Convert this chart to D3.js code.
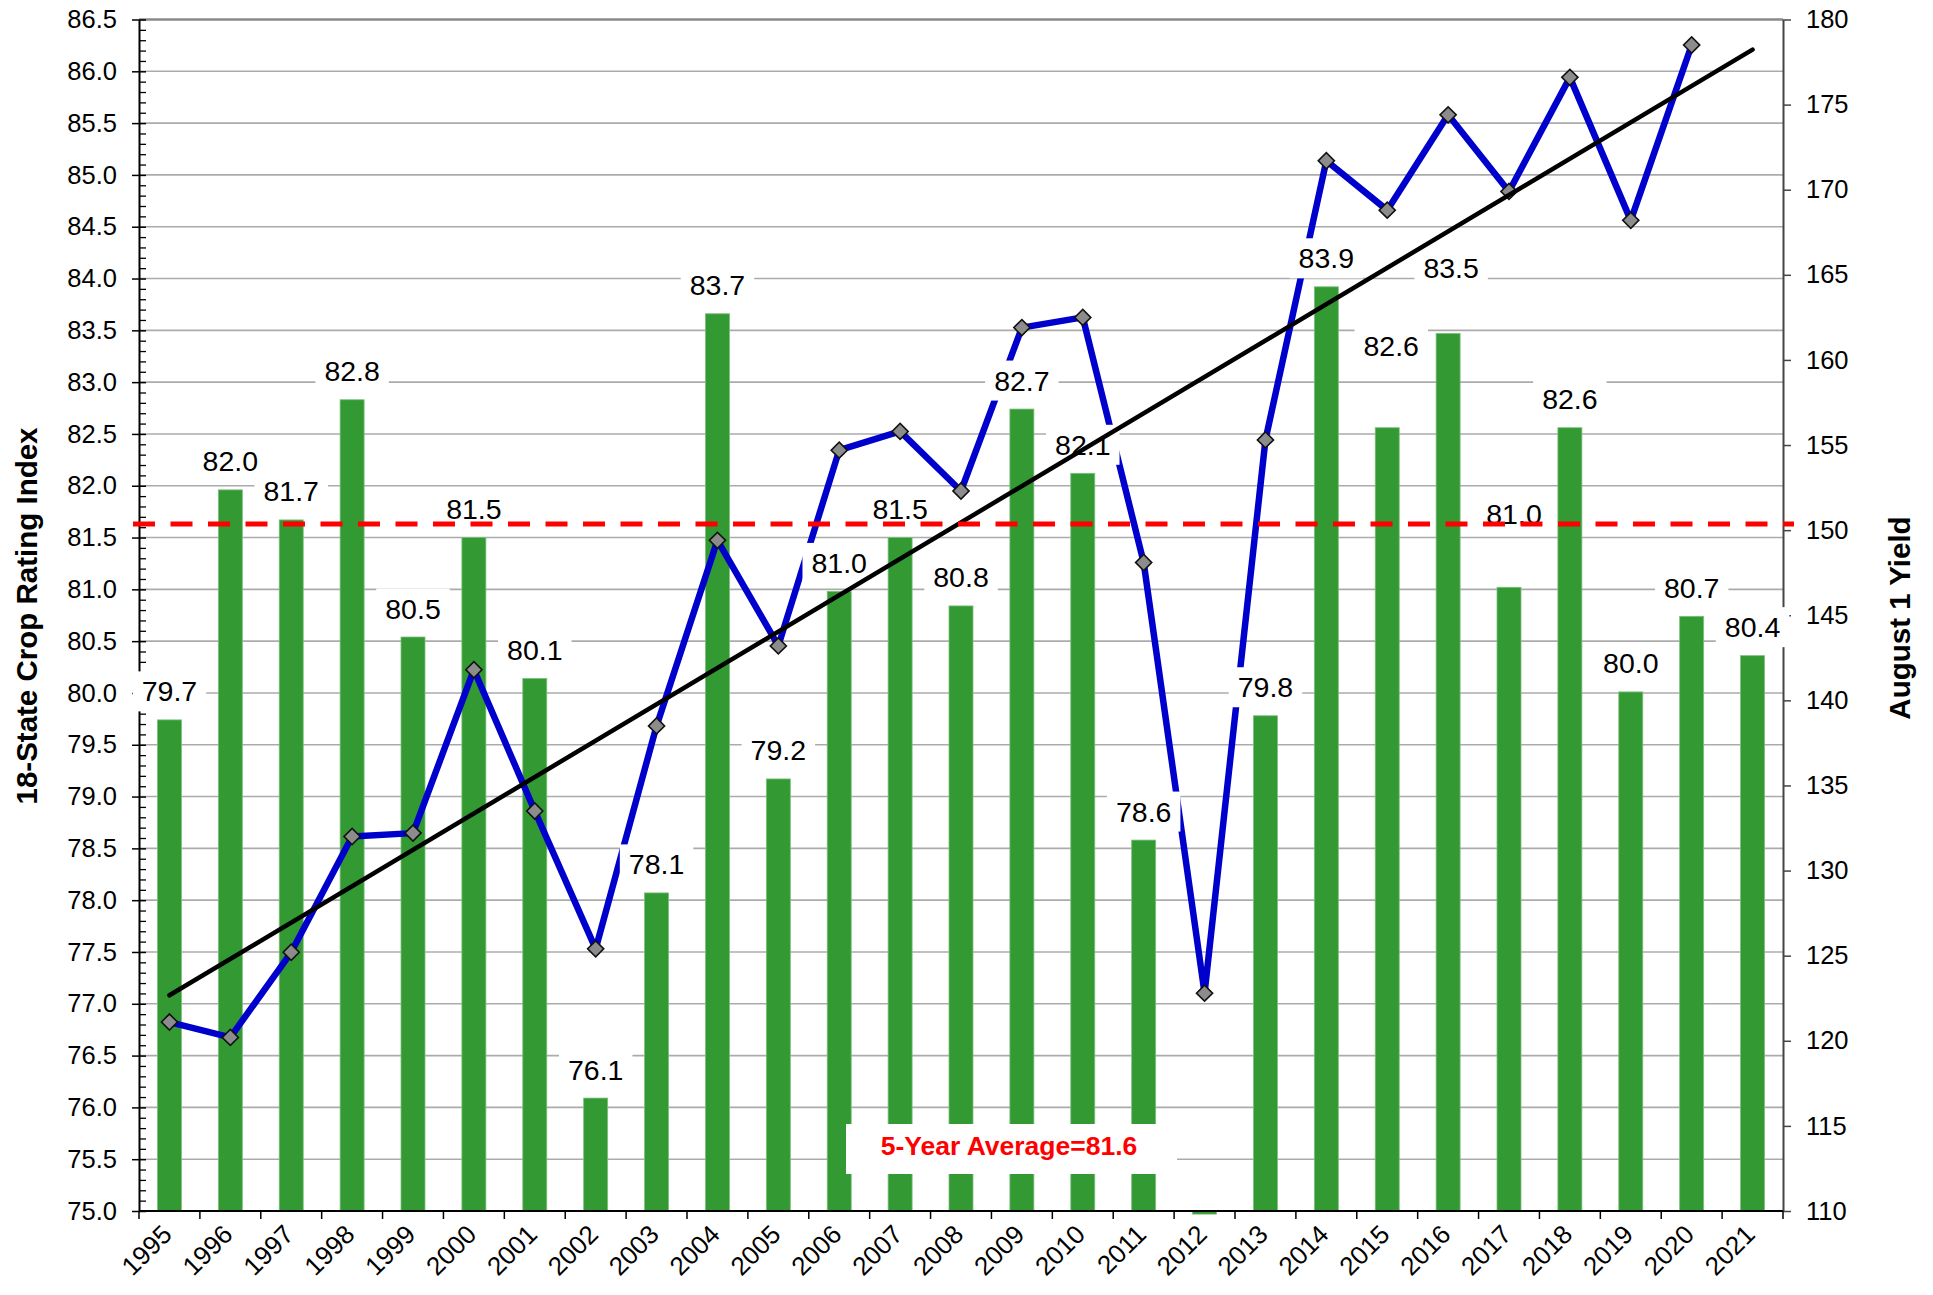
<!DOCTYPE html>
<html>
<head>
<meta charset="utf-8">
<script src="https://cdn.jsdelivr.net/npm/d3@7/dist/d3.min.js"></script>
<style>
    body { margin: 0; background: #fff; }
    svg text { font-family: Arial, "Liberation Sans", sans-serif; }
</style>
</head>
<body>
<div id="chart"></div>
<script>
    // chart data
    var years = ['1995', '1996', '1997', '1998', '1999', '2000', '2001', '2002', '2003', '2004',
        '2005', '2006', '2007', '2008', '2009', '2010', '2011', '2012', '2013', '2014',
        '2015', '2016', '2017', '2018', '2019', '2020', '2021'];
    // 18-state crop rating index (bars, left axis)
    var ratings = [79.74, 81.96, 81.67, 82.83, 80.54, 81.50, 80.14, 76.09, 78.07, 83.66,
        79.17, 80.98, 81.50, 80.84, 82.74, 82.12, 78.58, 74.97, 79.78, 83.92,
        82.56, 83.47, 81.02, 82.56, 80.01, 80.74, 80.36];
    // August 1 yield (line, right axis)
    var yields = [121.1, 120.2, 125.2, 132.0, 132.2, 141.8, 133.5, 125.4, 138.5, 149.4,
        143.2, 154.7, 155.8, 152.3, 161.9, 162.5, 148.1, 122.8, 155.3, 171.7,
        168.8, 174.4, 169.9, 176.6, 168.2, 178.5, null];
    var leftTicks = [75, 75.5, 76, 76.5, 77, 77.5, 78, 78.5, 79, 79.5, 80, 80.5, 81, 81.5,
        82, 82.5, 83, 83.5, 84, 84.5, 85, 85.5, 86, 86.5];
    var rightTicks = [110, 115, 120, 125, 130, 135, 140, 145, 150, 155, 160, 165, 170, 175, 180];
    var avgValue = 81.63;
    var avgText = '5-Year Average=81.6';
    var leftTitle = '18-State Crop Rating Index';
    var rightTitle = 'August 1 Yield';

    var width = 1933, height = 1295;
    var margin = {top: 19.5, right: 150, bottom: 84, left: 139};
    var plotRight = width - margin.right;
    var plotBottom = height - margin.bottom;

    var svg = d3.select('#chart').append('svg')
        .attr('width', width)
        .attr('height', height);

    var x = d3.scaleBand().domain(years).range([margin.left, plotRight]).padding(0);
    var barW = x.bandwidth() * 0.394;
    var cx = function (d) { return x(d) + x.bandwidth() / 2; };
    var yL = d3.scaleLinear().domain([75, 86.5]).range([plotBottom, margin.top]);
    var yR = d3.scaleLinear().domain([110, 180]).range([plotBottom, margin.top]);

    var rows = years.map(function (d, i) {
        return {year: d, rating: ratings[i], yield: yields[i]};
    });

    // Gridlines
    svg.append('g').selectAll('line')
        .data(leftTicks.filter(function (t) { return t > 75 && t < 86.5; }))
        .enter().append('line')
        .attr('x1', margin.left).attr('x2', plotRight)
        .attr('y1', function (d) { return yL(d); })
        .attr('y2', function (d) { return yL(d); })
        .attr('stroke', '#ababab')
        .attr('stroke-width', 1.6);

    svg.append('line')
        .attr('x1', margin.left).attr('x2', plotRight)
        .attr('y1', yL(86.5)).attr('y2', yL(86.5))
        .attr('stroke', '#8a8a8a')
        .attr('stroke-width', 2.5);

    // Bars
    svg.append('g').selectAll('rect')
        .data(rows)
        .enter().append('rect')
        .attr('x', function (d) { return cx(d.year) - barW / 2; })
        .attr('width', barW)
        .attr('y', function (d) { return Math.min(yL(d.rating), yL(75)); })
        .attr('height', function (d) { return Math.abs(yL(75) - yL(d.rating)); })
        .attr('fill', '#339933')
        .attr('stroke', '#7cbf7c')
        .attr('stroke-width', 0.8);

    // Left axis: major + minor ticks
    var axL = svg.append('g')
        .attr('transform', 'translate(' + margin.left + ',0)')
        .call(d3.axisLeft(yL).tickValues(leftTicks).tickFormat(d3.format('.1f'))
            .tickSizeInner(7).tickSizeOuter(0).tickPadding(15));
    axL.selectAll('.tick line').attr('x1', 7).attr('stroke', '#000').attr('stroke-width', 1.5);
    axL.select('.domain').attr('stroke', '#000').attr('stroke-width', 2);
    axL.selectAll('text').attr('font-size', 25.5).attr('fill', '#000');

    var minor = d3.range(750, 865, 1).filter(function (v) { return v % 5 !== 0; })
        .map(function (v) { return v / 10; });
    svg.append('g')
        .attr('transform', 'translate(' + margin.left + ',0)')
        .call(d3.axisLeft(yL).tickValues(minor).tickFormat('').tickSizeInner(-7).tickSizeOuter(0))
        .call(function (g) {
            g.select('.domain').remove();
            g.selectAll('.tick line').attr('stroke', '#000').attr('stroke-width', 1.3);
        });

    // Right axis
    var axR = svg.append('g')
        .attr('transform', 'translate(' + plotRight + ',0)')
        .call(d3.axisRight(yR).tickValues(rightTicks).tickSizeInner(8).tickSizeOuter(0).tickPadding(15));
    axR.select('.domain').attr('stroke', '#444').attr('stroke-width', 2);
    axR.selectAll('.tick line').attr('stroke', '#444').attr('stroke-width', 1.5);
    axR.selectAll('text').attr('font-size', 25.5).attr('fill', '#000');

    // Bottom axis
    var gx = svg.append('g');
    gx.append('line')
        .attr('x1', margin.left).attr('x2', plotRight)
        .attr('y1', plotBottom).attr('y2', plotBottom)
        .attr('stroke', '#000').attr('stroke-width', 2);
    gx.selectAll('line.tk')
        .data(years.concat(['end']))
        .enter().append('line')
        .attr('class', 'tk')
        .attr('x1', function (d) { return d === 'end' ? plotRight : x(d); })
        .attr('x2', function (d) { return d === 'end' ? plotRight : x(d); })
        .attr('y1', plotBottom).attr('y2', plotBottom + 8)
        .attr('stroke', '#000').attr('stroke-width', 1.5);
    gx.selectAll('text')
        .data(years)
        .enter().append('text')
        .attr('transform', function (d) {
            return 'translate(' + (cx(d) + 4) + ',' + (plotBottom + 25) + ') rotate(-45)';
        })
        .attr('text-anchor', 'end')
        .attr('font-size', 26)
        .text(function (d) { return d; });

    // Yield line
    var pts = rows.filter(function (d) { return d.yield !== null; });
    var line = d3.line()
        .x(function (d) { return cx(d.year); })
        .y(function (d) { return yR(d.yield); });
    svg.append('path')
        .datum(pts)
        .attr('fill', 'none')
        .attr('stroke', '#0000cc')
        .attr('stroke-width', 6.5)
        .attr('stroke-linejoin', 'round')
        .attr('d', line);

    svg.append('g').selectAll('path')
        .data(pts)
        .enter().append('path')
        .attr('d', d3.symbol().type(d3.symbolSquare).size(130))
        .attr('transform', function (d) {
            return 'translate(' + cx(d.year) + ',' + yR(d.yield) + ') rotate(45)';
        })
        .attr('fill', '#8c8c8c')
        .attr('stroke', '#111')
        .attr('stroke-width', 1.6);

    // Data labels with white boxes
    var labelNudge = {'2015': [4, 53], '2016': [3, 37], '2017': [5, 45]};
    var fmt = d3.format('.1f');
    var lab = svg.append('g').selectAll('g')
        .data(rows.filter(function (d) { return d.rating >= 75; }))
        .enter().append('g')
        .attr('transform', function (d) {
            var n = labelNudge[d.year] || [0, 0];
            return 'translate(' + (cx(d.year) + n[0]) + ',' + (yL(d.rating) - 28.5 - n[1]) + ')';
        });
    lab.append('rect').attr('fill', '#fff');
    lab.append('text')
        .attr('text-anchor', 'middle')
        .attr('y', 10)
        .attr('font-size', 28.5)
        .attr('fill', '#000')
        .text(function (d) { return fmt(d.rating); });
    lab.each(function () {
        var g = d3.select(this);
        var w = g.select('text').node().getComputedTextLength() + 18;
        g.select('rect').attr('x', -w / 2).attr('width', w).attr('y', -20).attr('height', 40);
    });

    // Trend line (least squares on the yield series)
    var mx = d3.mean(pts, function (d) { return years.indexOf(d.year); });
    var my = d3.mean(pts, function (d) { return d.yield; });
    var sxy = d3.sum(pts, function (d) { return (years.indexOf(d.year) - mx) * (d.yield - my); });
    var sxx = d3.sum(pts, function (d) { return Math.pow(years.indexOf(d.year) - mx, 2); });
    var slope = sxy / sxx, icpt = my - slope * mx;
    var trend = [years[0], years[years.length - 1]].map(function (d) {
        return {year: d, yield: icpt + slope * years.indexOf(d)};
    });
    svg.append('path')
        .datum(trend)
        .attr('fill', 'none')
        .attr('stroke', '#000')
        .attr('stroke-width', 4.5)
        .attr('stroke-linecap', 'round')
        .attr('d', line);

    // 5-year average line
    svg.append('line')
        .attr('x1', margin.left - 6).attr('x2', plotRight + 11)
        .attr('y1', yL(avgValue)).attr('y2', yL(avgValue))
        .attr('stroke', '#ff0000')
        .attr('stroke-width', 5)
        .attr('stroke-dasharray', '22,15.5');

    // Annotation
    svg.append('rect')
        .attr('x', 846).attr('y', 1124)
        .attr('width', 331).attr('height', 50)
        .attr('fill', '#fff');
    svg.append('text')
        .attr('x', 1009).attr('y', 1155)
        .attr('text-anchor', 'middle')
        .attr('font-size', 26.5)
        .attr('font-weight', 'bold')
        .attr('fill', '#ff0000')
        .text(avgText);

    // Axis titles
    svg.append('text')
        .attr('transform', 'translate(37,616) rotate(-90)')
        .attr('text-anchor', 'middle')
        .attr('font-size', 29.5)
        .attr('font-weight', 'bold')
        .text(leftTitle);
    svg.append('text')
        .attr('transform', 'translate(1910,618) rotate(-90)')
        .attr('text-anchor', 'middle')
        .attr('font-size', 29.5)
        .attr('font-weight', 'bold')
        .text(rightTitle);
</script>
</body>
</html>
